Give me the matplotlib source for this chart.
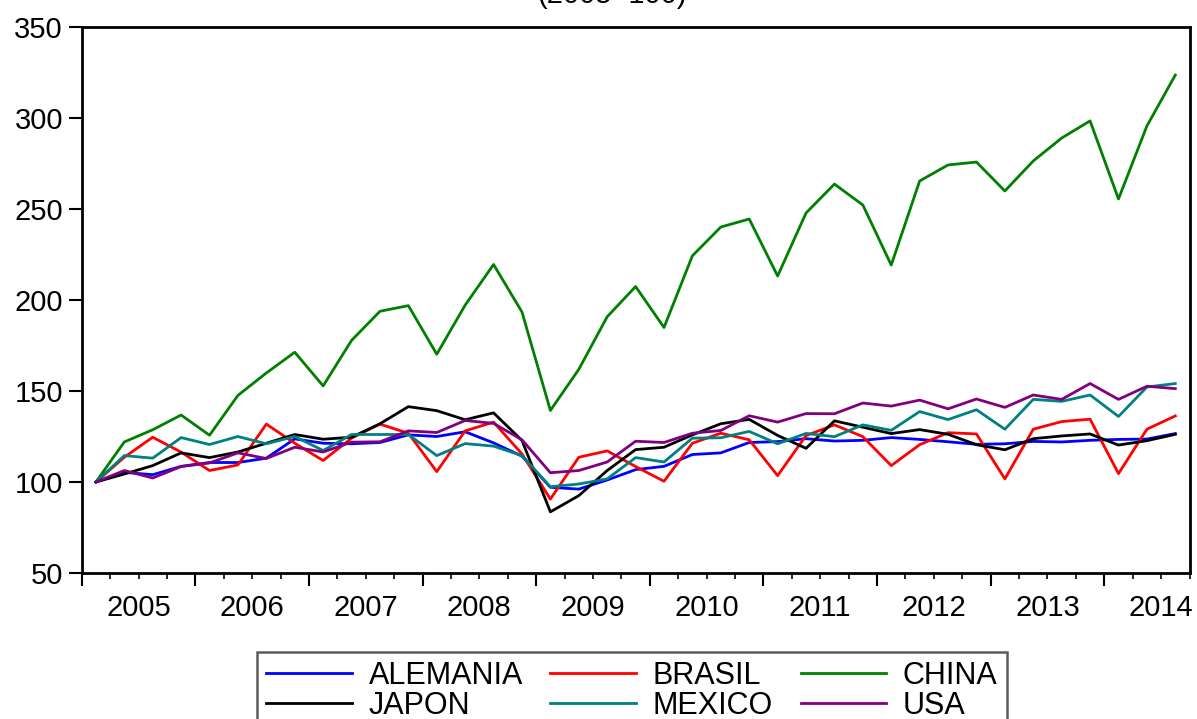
import numpy as np
import matplotlib.pyplot as plt

plt.rcParams['font.family'] = ['Liberation Sans', 'DejaVu Sans']

# quarterly index 2005Q1 .. 2014Q3 (2005=100)
years = ['2005', '2006', '2007', '2008', '2009', '2010', '2011', '2012', '2013', '2014']

alemania = [100, 105.3, 104.0, 108.6, 110.7, 110.7, 113.1, 123.7, 121.3, 121.0,
            121.7, 125.9, 125.0, 127.6, 121.5, 114.2, 97.1, 96.1, 101.1, 106.8,
            108.6, 115.1, 116.0, 121.7, 122.2, 123.8, 122.5, 122.9, 124.4, 123.4,
            122.1, 120.7, 121.0, 122.3, 122.0, 122.9, 123.4, 123.6, 126.6]
brasil = [100, 113.6, 124.6, 116.4, 106.3, 109.4, 131.8, 121.3, 111.8, 124.1,
          131.8, 126.8, 105.7, 128.1, 132.9, 115.4, 90.6, 113.6, 117.1, 108.5,
          100.4, 121.3, 126.8, 123.2, 103.5, 125.5, 131.4, 124.9, 109.0, 120.5,
          127.1, 126.4, 101.7, 129.0, 133.2, 134.5, 104.6, 129.0, 136.3]
china = [100, 122.0, 128.7, 136.8, 125.7, 147.6, 159.9, 171.3, 152.8, 177.8,
         193.8, 196.9, 170.2, 197.2, 219.5, 193.4, 139.3, 161.9, 190.8, 207.4,
         184.9, 224.3, 240.1, 244.5, 213.2, 247.8, 263.7, 252.2, 219.2, 265.4,
         274.2, 275.8, 259.9, 276.4, 289.0, 298.4, 255.5, 295.6, 323.6]
japon = [100, 104.4, 109.0, 116.0, 113.4, 116.5, 121.3, 126.1, 123.5, 124.6,
         132.0, 141.4, 139.2, 134.2, 138.0, 122.8, 83.6, 92.5, 106.3, 117.8,
         119.1, 125.9, 132.0, 134.4, 125.6, 118.5, 133.6, 130.1, 126.6, 128.8,
         126.2, 120.5, 117.7, 123.8, 125.3, 126.4, 120.3, 122.7, 126.2]
mexico = [100, 114.5, 113.1, 124.4, 120.6, 125.0, 121.0, 125.0, 117.3, 126.1,
          126.1, 126.1, 114.5, 121.1, 119.7, 114.5, 97.4, 98.9, 101.7, 113.4,
          111.0, 124.1, 124.3, 127.8, 121.0, 126.7, 124.9, 131.4, 128.4, 138.7,
          134.3, 139.7, 129.0, 145.4, 144.3, 147.8, 136.0, 152.2, 154.1]
usa = [100, 106.3, 102.2, 108.5, 110.5, 116.0, 112.9, 119.1, 116.5, 121.9,
       122.1, 128.1, 127.2, 133.8, 132.2, 123.2, 105.1, 106.3, 111.0, 122.4,
       121.7, 126.8, 128.3, 136.4, 132.9, 137.6, 137.5, 143.4, 141.7, 145.0,
       140.2, 145.6, 141.0, 147.8, 145.4, 154.1, 145.4, 152.6, 151.3]

names = ['ALEMANIA', 'BRASIL', 'CHINA', 'JAPON', 'MEXICO', 'USA']
colors = ['#0000ff', '#ff0000', '#008000', '#000000', '#008080', '#800080']
series = [alemania, brasil, china, japon, mexico, usa]

n = len(china)
x = np.arange(n)

fig = plt.figure(figsize=(11.97, 7.19), dpi=100)
ax = fig.add_axes([81.7 / 1197, 1 - 573 / 719, (1189.5 - 81.7) / 1197, (573 - 27) / 719])

lines = []
for vals, name, c in zip(series, names, colors):
    ln, = ax.plot(x, vals, color=c, lw=2.0, label=name)
    lines.append(ln)

ax.set_xlim(-0.5, n - 0.5)
ax.set_ylim(50, 350)
ax.set_yticks([50, 100, 150, 200, 250, 300, 350])

# quarter ticks, long at year boundaries
bounds = np.arange(-0.5, n, 4)
ax.set_xticks(bounds)
ax.set_xticklabels([])
ax.set_xticks([q for q in np.arange(-0.5, n, 1) if q not in bounds], minor=True)
ax.tick_params(axis='x', which='major', direction='out', length=9, width=1.5, top=False)
ax.tick_params(axis='x', which='minor', direction='out', length=4.5, width=1.2, top=False)
ax.tick_params(axis='y', direction='out', length=9.5, width=1.5, pad=4, labelsize=21, right=False)

sec = ax.secondary_xaxis('bottom')
sec.set_xticks(bounds + 2)
sec.set_xticklabels(years)
sec.tick_params(length=0, pad=15, labelsize=21)
sec.spines['bottom'].set_visible(False)

for sp in ax.spines.values():
    sp.set_linewidth(2.0)
    sp.set_color('black')

# title sits mostly above the picture, as in the reference
fig.text(612 / 1197, 1 - 3 / 719, '(2005=100)', ha='center', va='baseline', fontsize=21)

# legend filled column by column, so reorder to read row-wise
order = [0, 3, 1, 4, 2, 5]
leg = fig.legend([lines[i] for i in order], [names[i] for i in order],
                 loc='upper left', bbox_to_anchor=(257 / 1197, 1 - 652 / 719), ncol=3,
                 fontsize=22, frameon=True, fancybox=False, borderaxespad=0,
                 handlelength=2.8, handletextpad=0.55, columnspacing=0.9,
                 borderpad=0.3, labelspacing=0.0)
leg.get_frame().set_edgecolor('#333333')
leg.get_frame().set_linewidth(1.8)
for h in leg.get_lines():
    h.set_linewidth(2.0)

fig.savefig('out.png', dpi=100)
